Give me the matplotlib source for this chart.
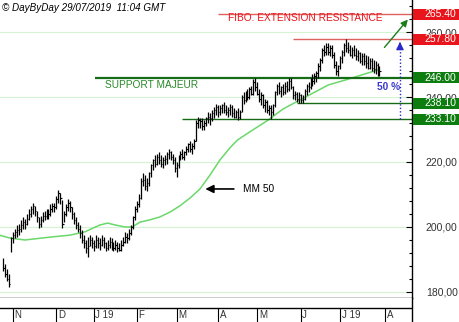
import numpy as np
import matplotlib
matplotlib.use("Agg")
import matplotlib.pyplot as plt
from matplotlib.patches import Rectangle
from matplotlib.ticker import MultipleLocator, FuncFormatter

plt.rcParams['font.family'] = ['Liberation Sans', 'DejaVu Sans']

# daily bars, 25/10/2018 -> 29/07/2019 (trading day index 0..191)
highs = [190.5, 188.5, 187, 185.5, 197, 198.5, 199.5, 200.5, 201, 202,
         203, 202.5, 204, 205.5, 206.5, 207.5, 206.5, 205, 203, 203.5,
         204.5, 205, 205.5, 205.5, 207, 207.5, 207.5, 209.5, 211.5, 210.5,
         208.3, 205, 207, 208.5, 208, 206, 204.5, 203, 201.5, 200.5,
         199, 197.5, 196, 197, 197.5, 197, 196, 197.5, 197, 196.5,
         197.5, 197, 195.5, 196, 197, 196.5, 195.5, 196, 195.5, 195,
         196, 197, 198.5, 198, 199.5, 200.5, 203.5, 206.5, 208, 210,
         215, 216.5, 216, 215, 217, 219.5, 221, 222, 222.5, 223,
         222, 221.5, 222, 223, 224, 223.5, 222.5, 221.5, 220, 222,
         223.5, 224, 223.5, 225, 226, 226.5, 226, 227, 233, 234,
         233.5, 233.5, 233, 234, 235.5, 235, 236, 237, 238, 237.5,
         237.5, 238, 238.5, 237.5, 237, 238, 237.5, 236.5, 236, 236.5,
         236, 240.5, 241.5, 242, 242.5, 243, 243.5, 245.5, 246, 244.5,
         242.5, 241.5, 241, 239.5, 239, 237.5, 237.5, 238, 242, 244,
         244.5, 243.5, 244, 244.5, 245, 246, 246, 243.5, 242, 241.5,
         241.5, 241, 240.5, 242.5, 244, 244.5, 246, 247, 247.5, 248,
         250.5, 252, 255, 256, 256.5, 256.5, 256, 256, 254, 251,
         250, 252.5, 254.5, 256.5, 257.7, 257, 256, 255.5, 256, 255,
         254.5, 254, 253.5, 253.5, 253, 252.5, 252, 252, 251.5, 251,
         250.5, 249.5]
lows = [186.5, 184.5, 183.5, 181.5, 192.3, 195, 196.5, 197, 197.5, 198.5,
        199.5, 199.5, 200.5, 202, 203, 204, 203.5, 201.5, 199.7, 200,
        201.5, 202, 202.5, 202.5, 203.5, 204.5, 204.5, 205.5, 207.5, 207,
        199.7, 201.5, 203.5, 205, 204.5, 202.5, 201, 199.5, 198.5, 196.5,
        195, 193.5, 192, 190.8, 194, 193.5, 192.5, 193.5, 193.5, 193,
        194, 193.5, 192.5, 193, 193.5, 193, 192.5, 193, 192.3, 192.5,
        192.5, 194, 195, 195, 196, 197.5, 199.5, 202, 204.5, 206,
        208.5, 212.5, 211.5, 211, 212.5, 215.5, 217.5, 218.5, 219, 219.5,
        218.5, 218, 219, 219.5, 221, 220.5, 219.5, 217, 215.5, 218,
        220.5, 221, 220.5, 222, 223, 223, 222.5, 224, 226.5, 230.5,
        230.5, 230, 230, 231, 232, 231.5, 232.5, 233.5, 234.5, 234,
        234.5, 235, 235, 234.5, 234, 234.5, 234, 233.5, 233.5, 233,
        233.2, 235.5, 238, 238.5, 239, 239.5, 240.5, 240.5, 242, 240.5,
        238.5, 237.5, 236.5, 235.5, 235, 234.5, 233.1, 234.5, 237, 240.5,
        241, 240, 240.5, 241, 241.5, 242, 242.5, 239.5, 239, 238.5,
        238.2, 238.1, 238.1, 239, 240.5, 241.5, 242.5, 243.5, 244, 244.5,
        246, 248, 250.5, 252.5, 253, 253, 252.5, 252, 249, 246.8,
        246.5, 248.5, 250.5, 252.5, 254, 253.5, 252.5, 252, 252.5, 251.5,
        251, 250.5, 250, 250, 249, 248.5, 248.5, 248, 247.5, 247,
        246.5, 246.5]
closes = [187.5, 185.5, 184, 182.5, 196.5, 197.5, 198.5, 199, 199.5, 200.5,
          201.5, 201, 202.5, 204, 205.5, 206.5, 205, 203, 201, 202,
          203.5, 203.5, 204.5, 204, 205.5, 206.5, 206, 208.5, 210.5, 209,
          201, 204, 206, 207.5, 206, 204, 202, 200.5, 199.5, 198,
          196, 195, 193.5, 194, 196, 195, 194, 196, 195, 194.5,
          196, 195, 193.5, 194.5, 195.5, 194, 193.5, 194.5, 193.5, 193,
          194.5, 195.5, 197, 196.5, 198, 200, 203, 205.5, 207, 209,
          214, 214.5, 212.5, 213.5, 216.5, 219, 220.5, 219.5, 221.5, 220.5,
          219.5, 220.5, 221, 222.5, 223, 221.5, 220.5, 218, 219, 221.5,
          222.5, 221.5, 223, 224, 225.5, 224, 225, 226.5, 232, 233,
          232.5, 231, 232, 233.5, 234, 233.5, 235, 236, 237, 235.5,
          236.5, 237.5, 236, 235.5, 236, 237, 235, 234, 235.5, 234,
          235.5, 240, 239, 241.5, 240, 242.5, 241, 244.5, 243, 241,
          239.5, 240.5, 237.5, 238.5, 236, 236.5, 235.5, 237.5, 241.5, 243.5,
          242, 243, 241.5, 243.5, 242.5, 245, 243, 240.5, 241, 239.5,
          240.5, 239, 239.5, 242, 243.5, 243, 245.5, 245, 246.5, 247.5,
          249.5, 251.5, 254.5, 254, 255.5, 254, 255, 253, 250, 248,
          249.5, 252, 254, 256, 255, 254.5, 253, 254.5, 253, 252.5,
          253.5, 251, 252.5, 251, 250.5, 249, 251, 249, 248.5, 250,
          247.5, 248]

# moyenne mobile 50 jours
mm50_idx = [-2, 3.5, 11, 24, 34, 41.5, 49, 53, 57, 62, 65.4, 69.5, 74.5, 79.6,
            84.7, 89.7, 94.8, 99.9, 105, 110, 115, 119, 125, 134, 142, 150.7,
            165, 173.5, 182, 190]
mm50_val = [197.5, 196.6, 196.0, 196.9, 197.5, 198.5, 200.6, 201.2, 200.6, 200.0,
            200.0, 201.5, 202.2, 203.1, 204.6, 206.5, 208.9, 211.7, 216.0, 220.6,
            224.3, 226.8, 229.2, 232.7, 236.3, 239.1, 243.7, 245.2, 246.8, 248.3]

month_labels = ["N", "D", "J 19", "F", "M", "A", "M", "J", "J 19", "A"]
month_start = [5, 27, 46, 68, 88, 109, 129, 151, 171, 194]

levels = [265.40, 257.80, 246.00, 238.10, 233.10]
level_start = [109, 147, 46.5, 149, 91]

RED = "#e8161c"
GREEN = "#0d7d10"
W, H = 460, 322
xmin, xmax = -1.6, 207.5

fig = plt.figure(figsize=(W / 100, H / 100), dpi=100)
ax = fig.add_axes([0, 24 / H, 412 / W, 298 / H])
ax.set_xlim(xmin, xmax)
ax.set_ylim(178.15, 269.85)

for s in ["left", "top"]:
    ax.spines[s].set_visible(False)
ax.spines["right"].set_linewidth(1)
ax.spines["bottom"].set_linewidth(1)
ax.set_xticks([])

ax.yaxis.tick_right()
ax.yaxis.set_major_locator(MultipleLocator(20))
ax.yaxis.set_minor_locator(MultipleLocator(4))
ax.yaxis.set_major_formatter(FuncFormatter(lambda v, p: f"{v:.2f}".replace(".", ",")))
ax.tick_params(axis="y", which="major", direction="in", length=4, width=0.8,
               labelsize=7.5, labelcolor="#333333", pad=10)
ax.tick_params(axis="y", which="minor", direction="in", length=2.5, width=0.8)

for g in [180, 200, 220, 240, 260]:
    ax.axhline(g, color="#d4f2d4", lw=0.8, zorder=0)

idx = np.arange(len(closes))
ax.vlines(idx, lows, highs, color="black", lw=0.9, zorder=3)
ax.hlines(closes, idx, idx + 0.7, color="black", lw=0.8, zorder=3)

ax.plot(mm50_idx, mm50_val, color="#6ad86a", lw=1.1, zorder=2)

# niveaux
ax.hlines(levels[0], level_start[0], xmax, color="#e06060", lw=1.0, zorder=2)
ax.hlines(levels[1], level_start[1], xmax, color="#e06060", lw=1.0, zorder=2)
ax.hlines(levels[2], level_start[2], xmax, color="#176b17", lw=1.6, zorder=2)
ax.hlines(levels[3], level_start[3], xmax, color="#176b17", lw=1.0, zorder=2)
ax.hlines(levels[4], level_start[4], xmax, color="#176b17", lw=1.0, zorder=2)

box_col = [RED, RED, GREEN, GREEN, GREEN]
for lv, c in zip(levels, box_col):
    yfig = ax.transData.transform((0, lv))[1]
    r = Rectangle((413, yfig - 5.5), 47, 11, transform=None, fc=c, ec="none",
                  zorder=10, clip_on=False)
    fig.patches.append(r)
    fig.text(456 / W, yfig / H, f"{lv:.2f}", color="white", fontsize=7.5,
             ha="right", va="center", zorder=11)

ax.text(114, 264.2, "FIBO. EXTENSION RESISTANCE", color=RED, fontsize=7.3,
        ha="left", va="center")
ax.text(51.5, 243.7, "SUPPORT MAJEUR", color="#2a8a2a", fontsize=7.3,
        ha="left", va="center")
ax.text(121.5, 211.6, "MM 50", color="black", fontsize=7.3, ha="left", va="center")
ax.annotate("", xy=(101.2, 211.7), xytext=(118.5, 211.7),
            arrowprops=dict(arrowstyle="-|>", color="black", lw=1.2,
                            mutation_scale=12))
ax.text(189.5, 243.2, "50 %", color="#3a3acc", fontsize=7.3, ha="left",
        va="center", fontweight="bold")

# fleche verte
ax.annotate("", xy=(206.3, 264.5), xytext=(192.6, 254.6),
            arrowprops=dict(arrowstyle="-|>", color="#1d7d1d", lw=1.0,
                            mutation_scale=10), annotation_clip=False)
# fleche bleue pointillee
ax.plot([201.4, 201.4], [levels[4], levels[1] - 1.5], color="#2a2acc", lw=1.0,
        ls=(0, (1, 1.5)), zorder=4)
ax.annotate("", xy=(201.4, levels[1]), xytext=(201.4, levels[1] - 2.5),
            arrowprops=dict(arrowstyle="-|>", color="#2a2acc", lw=1.0,
                            mutation_scale=11))

# bande des mois
ax2 = fig.add_axes([0, 0, 412 / W, 24 / H], sharex=ax)
ax2.set_ylim(0, 24)
for s in ["left", "top", "bottom"]:
    ax2.spines[s].set_visible(False)
ax2.spines["right"].set_linewidth(1)
ax2.axhline(14, color="black", lw=1)
ax2.vlines(month_start, 0, 14, color="black", lw=0.8)
for m, lab in zip(month_start, month_labels):
    ax2.text(m + 0.8, 7, lab, fontsize=7, color="#333333", ha="left", va="center")
ax2.set_xticks([])
ax2.set_yticks([])
ax2.set_xlim(xmin, xmax)

fig.text(2 / W, 1 - 8 / H, "\u00a9 DayByDay 29/07/2019  11:04 GMT", fontsize=7.1,
         style="italic", ha="left", va="center", color="black")

fig.savefig("out.png", dpi=100)
